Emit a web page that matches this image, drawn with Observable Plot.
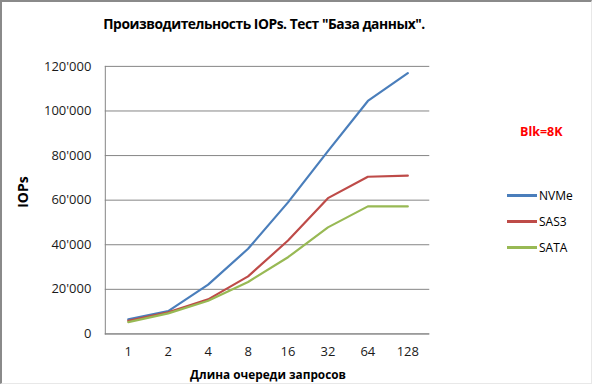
<!DOCTYPE html>
<html>
<head>
<meta charset="utf-8">
<script src="https://cdn.jsdelivr.net/npm/d3@7"></script>
<script src="https://cdn.jsdelivr.net/npm/@observablehq/plot@0.6"></script>
<style>
  html, body { margin: 0; padding: 0; background: #fff; }
  #wrap { position: relative; width: 592px; height: 384px; box-sizing: border-box;
          border-left: 2px solid #8a8a8a; border-top: 2px solid #8a8a8a;
          border-right: 1px solid #e8e8e8; border-bottom: 1px solid #e8e8e8;
          font-family: "Open Sans", "Liberation Sans", sans-serif; overflow: hidden; }
  #chart { position: absolute; left: -2px; top: -2px; }
  .abs { position: absolute; white-space: nowrap; }
  #title { left: 0; width: 524px; top: 12px; text-align: center; font-weight: bold; font-size: 13.8px; color: #000; letter-spacing: -0.45px; }
  #ylab { left: 20px; top: 190px; font-weight: bold; font-size: 14px; transform: translate(-50%, -50%) rotate(-90deg); color: #000; }
  #xlab { left: 266px; top: 372px; font-weight: bold; font-size: 11.8px; transform: translate(-50%, -50%); color: #000; }
  #blk { left: 518px; top: 121px; font-weight: bold; font-size: 12.5px; color: #ff0000; }
  .leg { position: absolute; left: 505px; font-size: 12px; color: #000; display: flex; align-items: center; }
  .leg span.sw { display: inline-block; width: 30px; height: 2.5px; margin-right: 2px; }
</style>
</head>
<body>
<div id="wrap">
  <div id="chart"></div>
  <div id="title" class="abs">Производительность IOPs. Тест "База данных".</div>
  <div id="ylab" class="abs">IOPs</div>
  <div id="xlab" class="abs">Длина очереди запросов</div>
  <div id="blk" class="abs">Blk=8K</div>
  <div id="legend"></div>
</div>
<script>
const queueDepths = ["1", "2", "4", "8", "16", "32", "64", "128"];
const seriesNames = ["NVMe", "SAS3", "SATA"];
const seriesColors = ["#4a7ebb", "#be4b48", "#98b954"];
const nvme = [6500, 10200, 22100, 38200, 59000, 82000, 104500, 117000];
const sas3 = [5900, 9700, 15500, 25800, 41900, 60900, 70500, 71000];
const sata = [5300, 9200, 14900, 23300, 34400, 47800, 57200, 57200];
const yTicks = [0, 20000, 40000, 60000, 80000, 100000, 120000];

const seriesValues = [nvme, sas3, sata];
const data = [];
seriesNames.forEach((name, si) => {
  queueDepths.forEach((q, i) => data.push({series: name, q, v: seriesValues[si][i]}));
});

const fmt = v => d3.format(",")(v).replace(/,/g, "'");

const chart = Plot.plot({
  width: 592,
  height: 384,
  marginLeft: 105,
  marginRight: 162,
  marginTop: 66,
  marginBottom: 50,
  style: {fontFamily: "'Open Sans', 'Liberation Sans', sans-serif", fontSize: "13px", color: "#1a1a1a", background: "transparent"},
  x: {type: "point", domain: queueDepths, padding: 0.5, label: null},
  y: {domain: [0, 120000], ticks: yTicks, label: null},
  color: {domain: seriesNames, range: seriesColors},
  marks: [
    Plot.gridY(yTicks, {stroke: "#868686", strokeOpacity: 1, strokeWidth: 1}),
    Plot.frame({anchor: "left", stroke: "#868686"}),
    Plot.axisY({ticks: yTicks, tickFormat: fmt, tickSize: 0, tickPadding: 14, fontSize: 13}),
    Plot.axisX({tickSize: 0, tickPadding: 13, fontSize: 13}),
    Plot.ruleY([0], {stroke: "#868686"}),
    Plot.line(data, {x: "q", y: "v", z: "series", stroke: "series", strokeWidth: 2.2, curve: "linear"})
  ]
});
document.getElementById("chart").appendChild(chart);

const legend = document.getElementById("legend");
const legTops = [185, 211, 237];
seriesNames.forEach((n, i) => {
  const d = document.createElement("div");
  d.className = "leg";
  d.style.top = legTops[i] + "px";
  d.innerHTML = `<span class="sw" style="background:${seriesColors[i]}"></span>${n}`;
  legend.appendChild(d);
});
</script>
</body>
</html>
